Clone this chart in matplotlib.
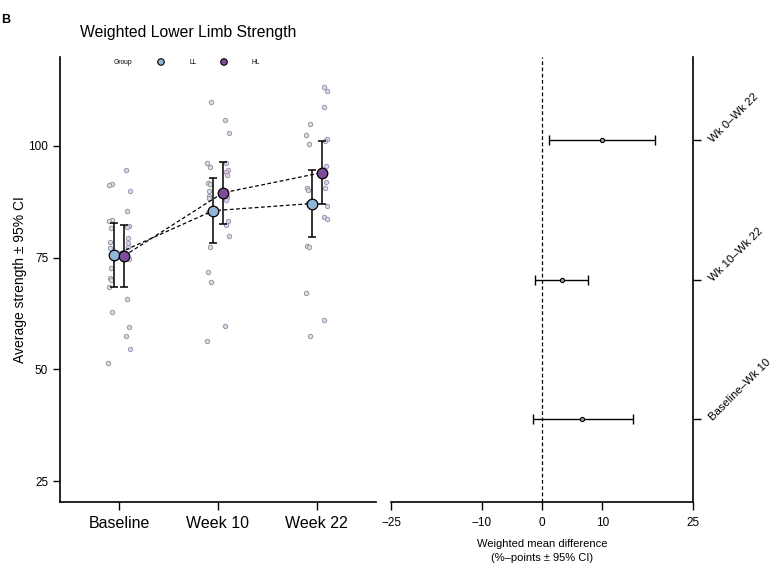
import numpy as np
import matplotlib.pyplot as plt

plt.rcParams['font.family'] = ['Liberation Sans', 'DejaVu Sans']

timepoints = ['Baseline', 'Week 10', 'Week 22']
groups = ['LL', 'HL']

# group means and 95% CI bounds
ll_mean = [75.6, 85.5, 87.1]
ll_lo = [68.4, 78.2, 79.7]
ll_hi = [82.8, 92.8, 94.5]
hl_mean = [75.4, 89.5, 94.0]
hl_lo = [68.4, 82.5, 86.9]
hl_hi = [82.3, 96.4, 101.0]

# individual observations
ll_points = [
    [91.4, 91.2, 83.4, 83.3, 81.7, 78.6, 77.1, 72.7, 70.5, 70.0, 68.5, 62.9, 51.4],
    [109.9, 96.1, 95.3, 91.8, 91.5, 89.8, 88.9, 88.4, 85.3, 77.3, 71.7, 69.6, 56.4],
    [104.9, 102.4, 100.5, 90.6, 90.2, 87.2, 77.7, 77.3, 67.1, 57.5],
]
hl_points = [
    [94.7, 89.8, 85.4, 82.0, 81.8, 79.3, 78.2, 77.3, 74.8, 65.8, 59.5, 57.5, 54.5],
    [105.7, 103.0, 96.2, 94.7, 94.2, 93.6, 88.5, 87.9, 83.3, 82.2, 79.8, 59.7],
    [113.1, 112.4, 108.8, 101.6, 101.2, 95.4, 91.9, 90.5, 86.6, 84.0, 83.6, 61.1],
]

# forest plot: weighted mean differences
contrasts = ['Baseline\u2013Wk 10', 'Wk 10\u2013Wk 22', 'Wk 0\u2013Wk 22']
diff_est = [6.7, 3.3, 9.9]
diff_lo = [-1.5, -1.1, 1.2]
diff_hi = [15.0, 7.6, 18.7]

LL_COLOR = '#92b6d8'
HL_COLOR = '#7d4d9c'

fig = plt.figure(figsize=(7.73, 5.68), dpi=100)
ax1 = fig.add_axes([60 / 773, 66 / 568, 316 / 773, 445 / 568])
ax2 = fig.add_axes([391 / 773, 66 / 568, 302 / 773, 445 / 568])

x = np.arange(1, len(timepoints) + 1)
offset = 0.05
jitter = 0.09

# raw points
for i in range(len(timepoints)):
    ll = ll_points[i]
    hl = hl_points[i]
    jl = np.linspace(-0.02, 0.02, len(ll))[::-1] * ((-1) ** np.arange(len(ll)))
    jh = np.linspace(-0.02, 0.02, len(hl)) * ((-1) ** np.arange(len(hl)))
    ax1.scatter(x[i] - jitter + jl, ll, s=10, facecolor='#dcdfe3',
                edgecolor='#8f98a3', linewidth=0.7, zorder=2)
    ax1.scatter(x[i] + jitter + jh, hl, s=10, facecolor='#ddd6e4',
                edgecolor='#a293b3', linewidth=0.7, zorder=2)

# means with CIs
for mean, lo, hi, col, sign in [(ll_mean, ll_lo, ll_hi, LL_COLOR, -1),
                                (hl_mean, hl_lo, hl_hi, HL_COLOR, 1)]:
    xs = x + sign * offset
    mean = np.array(mean)
    yerr = [mean - np.array(lo), np.array(hi) - mean]
    ax1.plot(xs, mean, linestyle=(0, (3, 2)), color='black', linewidth=0.9, zorder=3)
    ax1.errorbar(xs, mean, yerr=yerr, fmt='none', ecolor='black',
                 elinewidth=1.1, capsize=3, capthick=1.1, zorder=4)
    ax1.scatter(xs, mean, s=58, facecolor=col, edgecolor='black',
                linewidth=0.9, zorder=5)

ax1.set_xlim(0.4, 3.6)
ax1.set_ylim(20.3, 119.9)
ax1.set_xticks(x)
ax1.set_xticklabels(timepoints, fontsize=11.5)
ax1.set_yticks([25, 50, 75, 100])
ax1.tick_params(axis='y', labelsize=8.5, length=5, width=1)
ax1.tick_params(axis='x', length=6, width=1, pad=4)
ax1.spines['top'].set_visible(False)
ax1.spines['right'].set_visible(False)
for s in ['left', 'bottom']:
    ax1.spines[s].set_linewidth(1.2)
ax1.set_ylabel('Average strength \u00b1 95% CI', fontsize=10, labelpad=1)

fig.text(80 / 773, 1 - 33 / 568, 'Weighted Lower Limb Strength',
         fontsize=11.3, va='center', ha='left')

# legend row
ly = 1 - 62 / 568
fig.text(123 / 773, ly, 'Group', fontsize=4.8, ha='center', va='center')
fig.text(193 / 773, ly, 'LL', fontsize=4.8, ha='center', va='center')
fig.text(256 / 773, ly, 'HL', fontsize=4.8, ha='center', va='center')
leg_ax = fig.add_axes([0, 0, 1, 1], facecolor='none')
leg_ax.set_xlim(0, 773)
leg_ax.set_ylim(568, 0)
leg_ax.axis('off')
leg_ax.scatter([161, 224], [62, 62], s=22, facecolor=[LL_COLOR, HL_COLOR],
               edgecolor='black', linewidth=0.8)

fig.text(1 / 773, 1 - 20 / 568, 'B', fontsize=9, fontweight='bold',
         ha='left', va='center')

# forest plot
yp = np.arange(1, len(contrasts) + 1)
est = np.array(diff_est)
xerr = [est - np.array(diff_lo), np.array(diff_hi) - est]
ax2.axvline(0, color='black', linestyle=(0, (3, 2)), linewidth=0.9)
ax2.errorbar(est, yp, xerr=xerr, fmt='none', ecolor='black',
             elinewidth=1.0, capsize=3.5, capthick=1.0, zorder=3)
ax2.scatter(est, yp, s=9, facecolor='#9a9a9a', edgecolor='black',
            linewidth=0.8, zorder=4)
ax2.set_xlim(-25, 25)
ax2.set_ylim(0.4, 3.6)
ax2.set_xticks([-25, -10, 0, 10, 25])
ax2.set_xticklabels(['\u221225', '\u221210', '0', '10', '25'])
ax2.tick_params(axis='x', labelsize=8.5, length=6, width=1, pad=5)
ax2.yaxis.tick_right()
ax2.set_yticks(yp)
ax2.set_yticklabels(contrasts, rotation=45, ha='left', va='center',
                    rotation_mode='anchor', fontsize=8.2)
ax2.tick_params(axis='y', length=6, width=1, pad=7)
ax2.spines['top'].set_visible(False)
ax2.spines['left'].set_visible(False)
for s in ['right', 'bottom']:
    ax2.spines[s].set_linewidth(1.2)
ax2.set_xlabel('Weighted mean difference\n(%\u2013points \u00b1 95% CI)',
               fontsize=8, labelpad=7, linespacing=1.45)

fig.savefig('out.png', dpi=100)
